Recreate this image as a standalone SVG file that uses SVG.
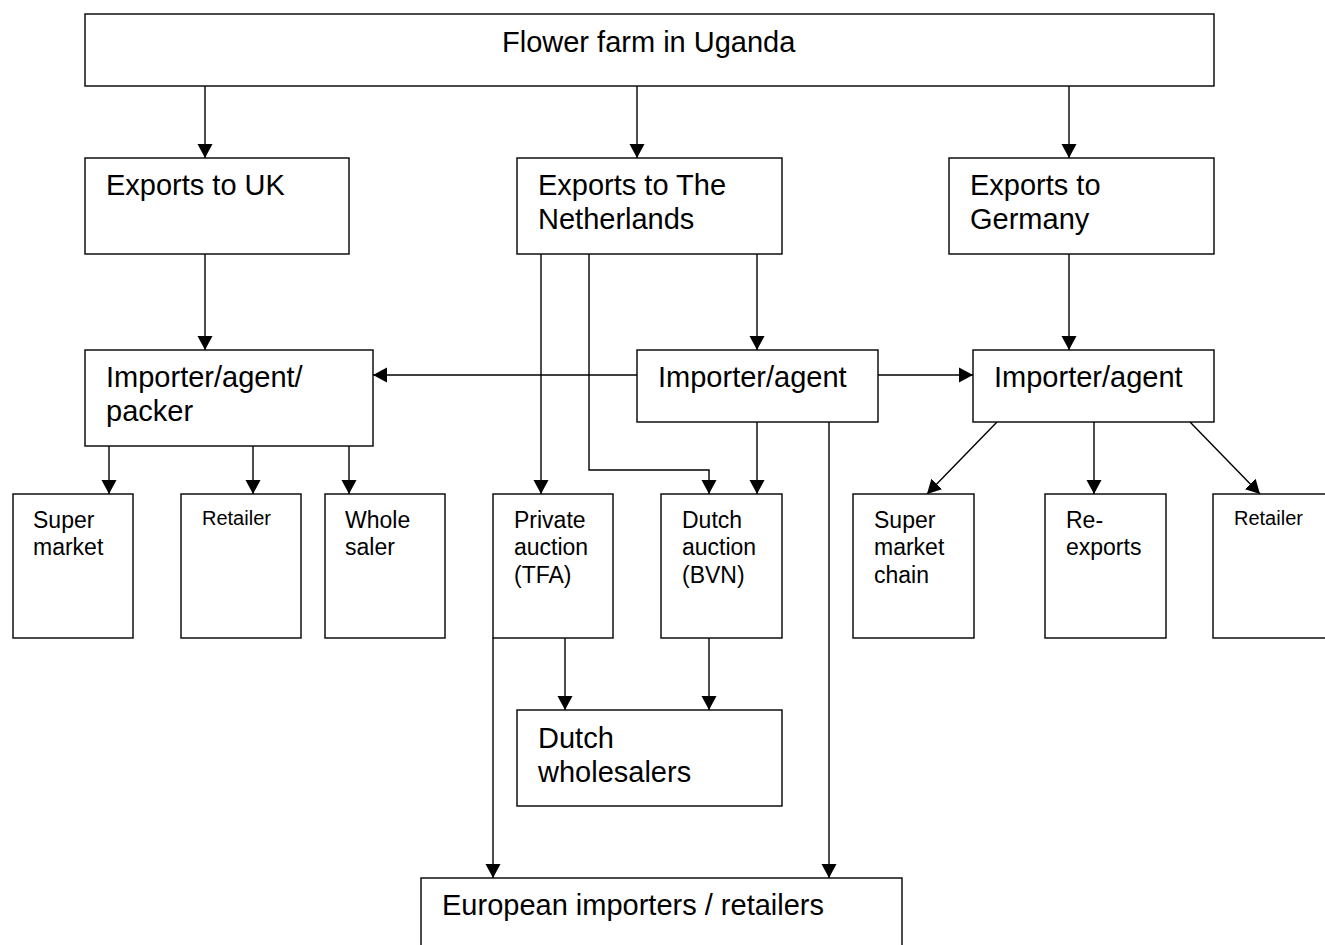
<svg xmlns="http://www.w3.org/2000/svg" width="1325" height="945" viewBox="0 0 1325 945">
  <style>
    .box { fill: #ffffff; stroke: #000000; stroke-width: 1.4; }
    .lbl { font-family: "Liberation Sans", Arial, sans-serif; fill: #000000; }
    .big { font-size: 29px; }
    .mid { font-size: 23px; }
    .small { font-size: 20px; }
    .conn { fill: none; stroke: #000000; stroke-width: 1.4; }
    .arr { marker-end: url(#head); }
  </style>
  <defs>
    <marker id="head" markerUnits="userSpaceOnUse" markerWidth="16" markerHeight="16" refX="14" refY="8" orient="auto">
      <path d="M0,0.5 L14,8 L0,15.5 Z" fill="#000000"/>
    </marker>
  </defs>

  <rect width="1325" height="945" fill="#ffffff"/>

  <!-- connectors -->
  <g id="connectors">
    <line class="conn arr" x1="205" y1="86" x2="205" y2="158"/>
    <line class="conn arr" x1="637" y1="86" x2="637" y2="158"/>
    <line class="conn arr" x1="1069" y1="86" x2="1069" y2="158"/>

    <line class="conn arr" x1="205" y1="254" x2="205" y2="350"/>
    <line class="conn arr" x1="757" y1="254" x2="757" y2="350"/>
    <line class="conn arr" x1="1069" y1="254" x2="1069" y2="350"/>

    <line class="conn arr" x1="637" y1="375" x2="373" y2="375"/>
    <line class="conn arr" x1="878" y1="375" x2="973" y2="375"/>

    <line class="conn arr" x1="541" y1="254" x2="541" y2="494"/>
    <polyline class="conn arr" points="589,254 589,470 709,470 709,494"/>
    <line class="conn arr" x1="757" y1="422" x2="757" y2="494"/>
    <line class="conn arr" x1="829" y1="422" x2="829" y2="878"/>

    <line class="conn arr" x1="109" y1="446" x2="109" y2="494"/>
    <line class="conn arr" x1="253" y1="446" x2="253" y2="494"/>
    <line class="conn arr" x1="349" y1="446" x2="349" y2="494"/>

    <line class="conn arr" x1="997" y1="422" x2="927" y2="494"/>
    <line class="conn arr" x1="1094" y1="422" x2="1094" y2="494"/>
    <line class="conn arr" x1="1190" y1="422" x2="1260" y2="494"/>

    <line class="conn arr" x1="565" y1="638" x2="565" y2="710"/>
    <line class="conn arr" x1="709" y1="638" x2="709" y2="710"/>
    <line class="conn arr" x1="493" y1="638" x2="493" y2="878"/>
  </g>

  <!-- source -->
  <g id="farm">
    <rect class="box" x="85" y="14" width="1129" height="72"/>
    <text class="lbl big" x="502" y="52">Flower farm in Uganda</text>
  </g>

  <!-- export destinations -->
  <g id="exports-uk">
    <rect class="box" x="85" y="158" width="264" height="96"/>
    <text class="lbl big" x="106" y="195">Exports to UK</text>
  </g>
  <g id="exports-nl">
    <rect class="box" x="517" y="158" width="265" height="96"/>
    <text class="lbl big" x="538" y="195">Exports to The</text>
    <text class="lbl big" x="538" y="229">Netherlands</text>
  </g>
  <g id="exports-de">
    <rect class="box" x="949" y="158" width="265" height="96"/>
    <text class="lbl big" x="970" y="195">Exports to</text>
    <text class="lbl big" x="970" y="229">Germany</text>
  </g>

  <!-- importers -->
  <g id="importer-uk">
    <rect class="box" x="85" y="350" width="288" height="96"/>
    <text class="lbl big" x="106" y="387">Importer/agent/</text>
    <text class="lbl big" x="106" y="421">packer</text>
  </g>
  <g id="importer-nl">
    <rect class="box" x="637" y="350" width="241" height="72"/>
    <text class="lbl big" x="658" y="387">Importer/agent</text>
  </g>
  <g id="importer-de">
    <rect class="box" x="973" y="350" width="241" height="72"/>
    <text class="lbl big" x="994" y="387">Importer/agent</text>
  </g>

  <!-- UK outlets -->
  <g id="uk-supermarket">
    <rect class="box" x="13" y="494" width="120" height="144"/>
    <text class="lbl mid" x="33" y="528">Super</text>
    <text class="lbl mid" x="33" y="555">market</text>
  </g>
  <g id="uk-retailer">
    <rect class="box" x="181" y="494" width="120" height="144"/>
    <text class="lbl small" x="202" y="525">Retailer</text>
  </g>
  <g id="uk-wholesaler">
    <rect class="box" x="325" y="494" width="120" height="144"/>
    <text class="lbl mid" x="345" y="528">Whole</text>
    <text class="lbl mid" x="345" y="555">saler</text>
  </g>

  <!-- Dutch auctions -->
  <g id="private-auction">
    <rect class="box" x="493" y="494" width="120" height="144"/>
    <text class="lbl mid" x="514" y="528">Private</text>
    <text class="lbl mid" x="514" y="555">auction</text>
    <text class="lbl mid" x="514" y="583">(TFA)</text>
  </g>
  <g id="dutch-auction">
    <rect class="box" x="661" y="494" width="121" height="144"/>
    <text class="lbl mid" x="682" y="528">Dutch</text>
    <text class="lbl mid" x="682" y="555">auction</text>
    <text class="lbl mid" x="682" y="583">(BVN)</text>
  </g>

  <!-- German outlets -->
  <g id="de-supermarket">
    <rect class="box" x="853" y="494" width="121" height="144"/>
    <text class="lbl mid" x="874" y="528">Super</text>
    <text class="lbl mid" x="874" y="555">market</text>
    <text class="lbl mid" x="874" y="583">chain</text>
  </g>
  <g id="de-reexports">
    <rect class="box" x="1045" y="494" width="121" height="144"/>
    <text class="lbl mid" x="1066" y="528">Re-</text>
    <text class="lbl mid" x="1066" y="555">exports</text>
  </g>
  <g id="de-retailer">
    <rect class="box" x="1213" y="494" width="130" height="144"/>
    <text class="lbl small" x="1234" y="525">Retailer</text>
  </g>

  <!-- downstream -->
  <g id="dutch-wholesalers">
    <rect class="box" x="517" y="710" width="265" height="96"/>
    <text class="lbl big" x="538" y="748">Dutch</text>
    <text class="lbl big" x="538" y="782">wholesalers</text>
  </g>
  <g id="european-importers">
    <rect class="box" x="421" y="878" width="481" height="90"/>
    <text class="lbl big" x="442" y="915">European importers / retailers</text>
  </g>
</svg>
